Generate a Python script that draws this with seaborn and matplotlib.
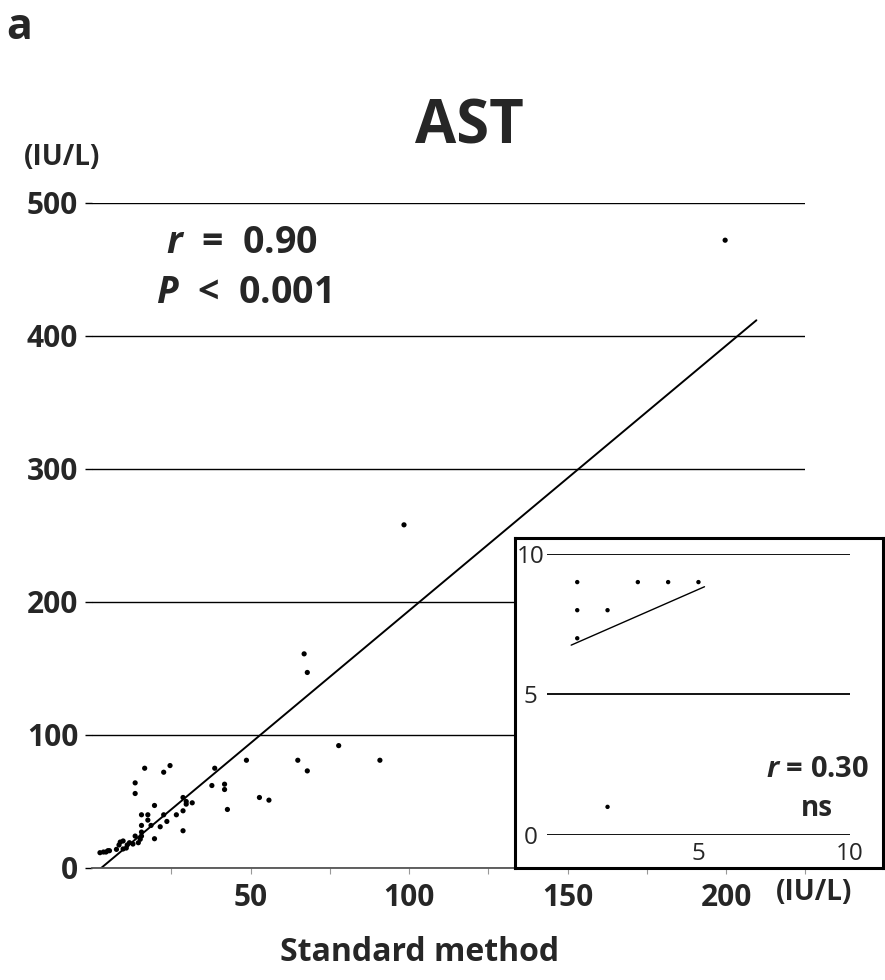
"""AST: new method vs standard method scatter with regression line and low-range inset."""

import matplotlib

matplotlib.use("Agg")
import matplotlib.pyplot as plt
import numpy as np
import pandas as pd
import seaborn as sns

# main panel: standard method (x) vs new method (y), IU/L
std_values = [
    199.7, 98.4, 66.9, 67.9, 77.8, 90.8, 64.9, 67.9, 48.7, 52.8,
    55.8, 38.7, 41.8, 41.8, 42.7, 37.8, 24.6, 22.6, 16.6, 13.6,
    13.6, 31.6, 29.7, 29.7, 28.7, 19.7, 17.6, 15.6, 17.6, 22.6,
    26.6, 28.7, 23.6, 21.5, 18.6, 15.6, 15.6, 28.7, 13.6, 14.6,
    19.7, 15.6, 2.5, 3.6, 4.4, 5.0, 5.5, 7.7, 8.5, 11.1,
    9.8, 9.8, 8.9, 10.8, 11.8, 12.9, 15.2,
]
new_values = [
    472, 258, 161, 147, 92, 81, 81, 73, 81, 53,
    51, 75, 63, 59, 44, 62, 77, 72, 75, 64,
    56, 49, 50, 48, 53, 47, 40, 40, 36, 40,
    40, 43, 35, 31, 32, 32, 27, 28, 24, 19,
    22, 24, 11.5, 12, 12, 13, 13, 14, 17.3, 17.3,
    20.3, 14.3, 19.5, 15, 19, 18, 21.6,
]

# inset: low range values
inset_std = [1, 3, 4, 5, 1, 2, 1, 2]
inset_new = [9, 9, 9, 9, 8, 8, 7, 1]

main_yticks = [0, 100, 200, 300, 400, 500]
main_xticks = [50, 100, 150, 200]
main_minor_xticks = [25, 75, 125, 175, 225]
inset_ticks = [0, 5, 10]
inset_xticklabels = ["", "5", "10"]

FONT = "Open Sans"


def fit_line(x, y, extend=0.05):
    x = np.asarray(x, float)
    y = np.asarray(y, float)
    slope, intercept = np.polyfit(x, y, 1)
    span = x.max() - x.min()
    xs = np.array([x.min() - extend * span, x.max() + extend * span])
    return pd.DataFrame({"x": xs, "y": slope * xs + intercept})


def main() -> None:
    sns.set_theme(style="white")
    plt.rcParams["font.family"] = [FONT, "DejaVu Sans"]
    plt.rcParams["mathtext.fontset"] = "custom"
    plt.rcParams["mathtext.it"] = f"{FONT}:italic:bold"
    plt.rcParams["mathtext.rm"] = f"{FONT}:bold"

    fig = plt.figure(figsize=(8.85, 9.8), dpi=100)

    # ---- main axes
    ax = fig.add_axes([0.104, 0.1143, 0.806, 0.6786], zorder=1)
    main_df = pd.DataFrame({"std": std_values, "new": new_values})
    sns.scatterplot(data=main_df, x="std", y="new", s=14, color="black",
                    edgecolor="none", ax=ax, zorder=3)
    sns.lineplot(data=fit_line(std_values, new_values), x="x", y="y",
                 color="black", linewidth=1.4, ax=ax, zorder=2)
    ax.set_xlim(0, 225)
    ax.set_ylim(0, 500)
    ax.set_xlabel("")
    ax.set_ylabel("")
    ax.set_yticks(main_yticks)
    ax.set_xticks(main_xticks)
    ax.set_xticks(main_minor_xticks, minor=True)
    ax.grid(axis="y", color="black", linewidth=1.0)
    ax.grid(axis="x", visible=False)
    for side in ["left", "top", "right"]:
        ax.spines[side].set_visible(False)
    ax.spines["bottom"].set_color("#555555")
    ax.spines["bottom"].set_linewidth(1.3)
    ax.tick_params(axis="y", left=True, direction="out", length=5, width=1,
                   color="black", pad=5, labelsize=21.5)
    ax.tick_params(axis="x", which="both", bottom=True, direction="out",
                   length=4, width=0.8, color="#999999", pad=7, labelsize=21.5)
    for lab in ax.get_xticklabels() + ax.get_yticklabels():
        lab.set_fontweight("bold")

    # ---- texts
    fig.text(0.0215, 0.9724, "a", fontsize=31, fontweight="bold",
             ha="center", va="center")
    fig.text(0.531, 0.869, "AST", fontsize=43, fontweight="bold",
             ha="center", va="center")
    fig.text(0.070, 0.839, "(IU/L)", fontsize=20, fontweight="bold",
             ha="center", va="center")
    fig.text(0.920, 0.0888, "(IU/L)", fontsize=20, fontweight="bold",
             ha="center", va="center")
    fig.text(0.4746, 0.0276, "Standard method", fontsize=23,
             fontweight="bold", ha="center", va="center")
    fig.text(0.2734, 0.752, r"$r$  =  0.90", fontsize=27, fontweight="bold",
             ha="center", va="center")
    fig.text(0.2746, 0.701, r"$P$  <  0.001", fontsize=27, fontweight="bold",
             ha="center", va="center")

    # ---- inset frame
    frame = fig.add_axes([0.582, 0.1143, 0.416, 0.3367], zorder=3)
    frame.set_facecolor("white")
    frame.set_xticks([])
    frame.set_yticks([])
    for side in frame.spines.values():
        side.set_visible(True)
        side.set_color("black")
        side.set_linewidth(2.2)

    # ---- inset data
    ins = fig.add_axes([0.618, 0.148, 0.3424, 0.2867], zorder=4)
    ins.set_facecolor("none")
    inset_df = pd.DataFrame({"std": inset_std, "new": inset_new})
    sns.scatterplot(data=inset_df, x="std", y="new", s=10, color="black",
                    edgecolor="none", ax=ins, zorder=3)
    sns.lineplot(data=fit_line(inset_std, inset_new), x="x", y="y",
                 color="black", linewidth=1.0, ax=ins, zorder=2)
    ins.set_xlim(0, 10)
    ins.set_ylim(0, 10)
    ins.set_xlabel("")
    ins.set_ylabel("")
    ins.set_yticks(inset_ticks)
    ins.set_xticks(inset_ticks)
    ins.set_xticklabels(inset_xticklabels)
    ins.grid(axis="y", color="black", linewidth=1.3)
    ins.grid(axis="x", visible=False)
    for side in ins.spines.values():
        side.set_visible(False)
    ins.tick_params(axis="both", length=0, labelsize=17.5)
    ins.tick_params(axis="y", pad=12)
    ins.tick_params(axis="x", pad=5)
    for lab in ins.get_yticklabels():
        lab.set_horizontalalignment("center")
    fig.text(0.924, 0.2153, r"$r$ = 0.30", fontsize=21, fontweight="bold",
             ha="center", va="center", zorder=5)
    fig.text(0.923, 0.1755, "ns", fontsize=20, fontweight="bold",
             ha="center", va="center", zorder=5)

    fig.savefig("out.png", dpi=100)
    plt.close(fig)


if __name__ == "__main__":
    main()
